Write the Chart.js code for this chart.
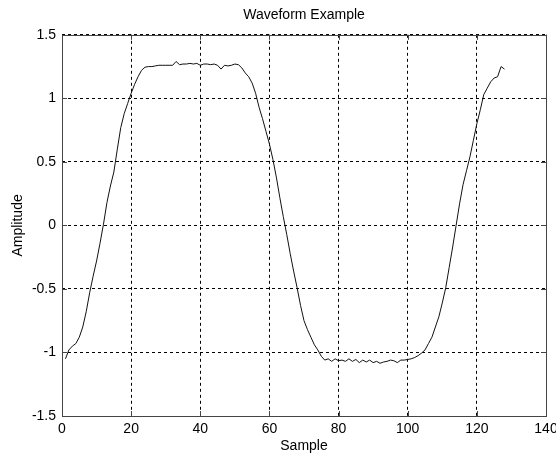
<!DOCTYPE html>
<html>
<head>
<meta charset="utf-8">
<script src="https://cdn.jsdelivr.net/npm/chart.js@4/dist/chart.umd.min.js"></script>
<style>
    html, body { margin: 0; padding: 0; background: #fff; }
    #wrap { width: 556px; height: 455px; }
</style>
</head>
<body>
<div id="wrap"><canvas id="waveChart" width="556" height="455"></canvas></div>
<script>
// sample index (1-based, like the original plot)
const samples = [];
for (let i = 1; i <= 128; i++) samples.push(i);

// amplitude, one value per sample
const amplitude = [
    -1.05, -0.98, -0.95, -0.93, -0.88, -0.80, -0.68, -0.53, -0.40, -0.28,
    -0.14, 0.01, 0.18, 0.31, 0.42, 0.60, 0.77, 0.88, 0.96, 1.04,
    1.11, 1.17, 1.22, 1.245, 1.25, 1.25, 1.255, 1.26, 1.26, 1.26,
    1.26, 1.26, 1.29, 1.265, 1.27, 1.27, 1.275, 1.27, 1.275, 1.26,
    1.27, 1.27, 1.265, 1.27, 1.26, 1.23, 1.26, 1.255, 1.26, 1.27,
    1.265, 1.24, 1.20, 1.17, 1.12, 1.04, 0.93, 0.84, 0.74, 0.64,
    0.52, 0.38, 0.22, 0.07, -0.07, -0.22, -0.36, -0.49, -0.63, -0.75,
    -0.82, -0.88, -0.94, -0.98, -1.03, -1.06, -1.05, -1.07, -1.05, -1.065,
    -1.06, -1.07, -1.05, -1.07, -1.055, -1.08, -1.06, -1.075, -1.06, -1.08,
    -1.07, -1.085, -1.075, -1.07, -1.06, -1.065, -1.08, -1.06, -1.06, -1.055,
    -1.05, -1.04, -1.025, -1.005, -0.98, -0.93, -0.88, -0.80, -0.72, -0.61,
    -0.49, -0.33, -0.17, 0.00, 0.17, 0.32, 0.43, 0.54, 0.67, 0.80,
    0.91, 1.03, 1.08, 1.13, 1.16, 1.17, 1.25, 1.23
];

const xTicks = [0, 20, 40, 60, 80, 100, 120, 140];
const yTicks = [-1.5, -1, -0.5, 0, 0.5, 1, 1.5];

const FONT = "'Liberation Sans', Arial, sans-serif";

// box round the axes plus short inward tick marks on all four sides
const axesBox = {
    id: 'axesBox',
    afterDraw(chart) {
        const {ctx, chartArea: a, scales} = chart;
        const len = 5;
        ctx.save();
        ctx.strokeStyle = '#444';
        ctx.lineWidth = 1;
        ctx.setLineDash([]);
        ctx.beginPath();
        scales.x.ticks.forEach(t => {
            const px = Math.round(scales.x.getPixelForValue(t.value)) + 0.5;
            ctx.moveTo(px, a.bottom); ctx.lineTo(px, a.bottom - len);
            ctx.moveTo(px, a.top); ctx.lineTo(px, a.top + len);
        });
        scales.y.ticks.forEach(t => {
            const py = Math.round(scales.y.getPixelForValue(t.value)) + 0.5;
            ctx.moveTo(a.left, py); ctx.lineTo(a.left + len, py);
            ctx.moveTo(a.right, py); ctx.lineTo(a.right - len, py);
        });
        ctx.stroke();
        ctx.strokeRect(Math.round(a.left) + 0.5, Math.round(a.top) + 0.5,
            Math.round(a.right - a.left), Math.round(a.bottom - a.top));
        ctx.restore();
    }
};

const ctx = document.getElementById('waveChart').getContext('2d');
const waveChart = new Chart(ctx, {
    type: 'line',
    data: {
        datasets: [{
            label: 'Waveform',
            data: samples.map((s, i) => ({x: s, y: amplitude[i]})),
            borderColor: '#111',
            borderWidth: 1,
            pointRadius: 0,
            tension: 0,
            fill: false
        }]
    },
    options: {
        responsive: false,
        animation: false,
        layout: {
            padding: {left: 0, right: 0, top: 0, bottom: 0}
        },
        scales: {
            x: {
                type: 'linear',
                min: 0,
                max: 140,
                afterBuildTicks: scale => { scale.ticks = xTicks.map(v => ({value: v})); },
                afterFit: scale => {
                    scale.height = 39;
                    scale.paddingLeft = 0;
                    scale.paddingRight = 10;
                },
                grid: {
                    color: '#000',
                    lineWidth: 1,
                    drawTicks: false
                },
                border: { display: false, dash: [3, 3] },
                ticks: {
                    color: '#000',
                    padding: 5,
                    maxRotation: 0,
                    callback: v => String(v),
                    font: { family: FONT, size: 14 }
                },
                title: {
                    display: true,
                    text: 'Sample',
                    color: '#000',
                    padding: {top: 0, bottom: 0},
                    font: { family: FONT, size: 14 }
                }
            },
            y: {
                type: 'linear',
                min: -1.5,
                max: 1.5,
                afterBuildTicks: scale => { scale.ticks = yTicks.map(v => ({value: v})); },
                afterFit: scale => { scale.width = 62; },
                grid: {
                    color: '#000',
                    lineWidth: 1,
                    drawTicks: false
                },
                border: { display: false, dash: [3, 3] },
                ticks: {
                    color: '#000',
                    padding: 6,
                    callback: v => String(v),
                    font: { family: FONT, size: 14 }
                },
                title: {
                    display: true,
                    text: 'Amplitude',
                    color: '#000',
                    padding: {top: 10, bottom: 0},
                    font: { family: FONT, size: 14 }
                }
            }
        },
        plugins: {
            legend: { display: false },
            tooltip: { enabled: false },
            title: {
                display: true,
                text: 'Waveform Example',
                color: '#000',
                fullSize: false,
                padding: {top: 7, bottom: 11},
                font: { family: FONT, size: 14, weight: 'normal' }
            }
        }
    },
    plugins: [axesBox]
});
</script>
</body>
</html>
